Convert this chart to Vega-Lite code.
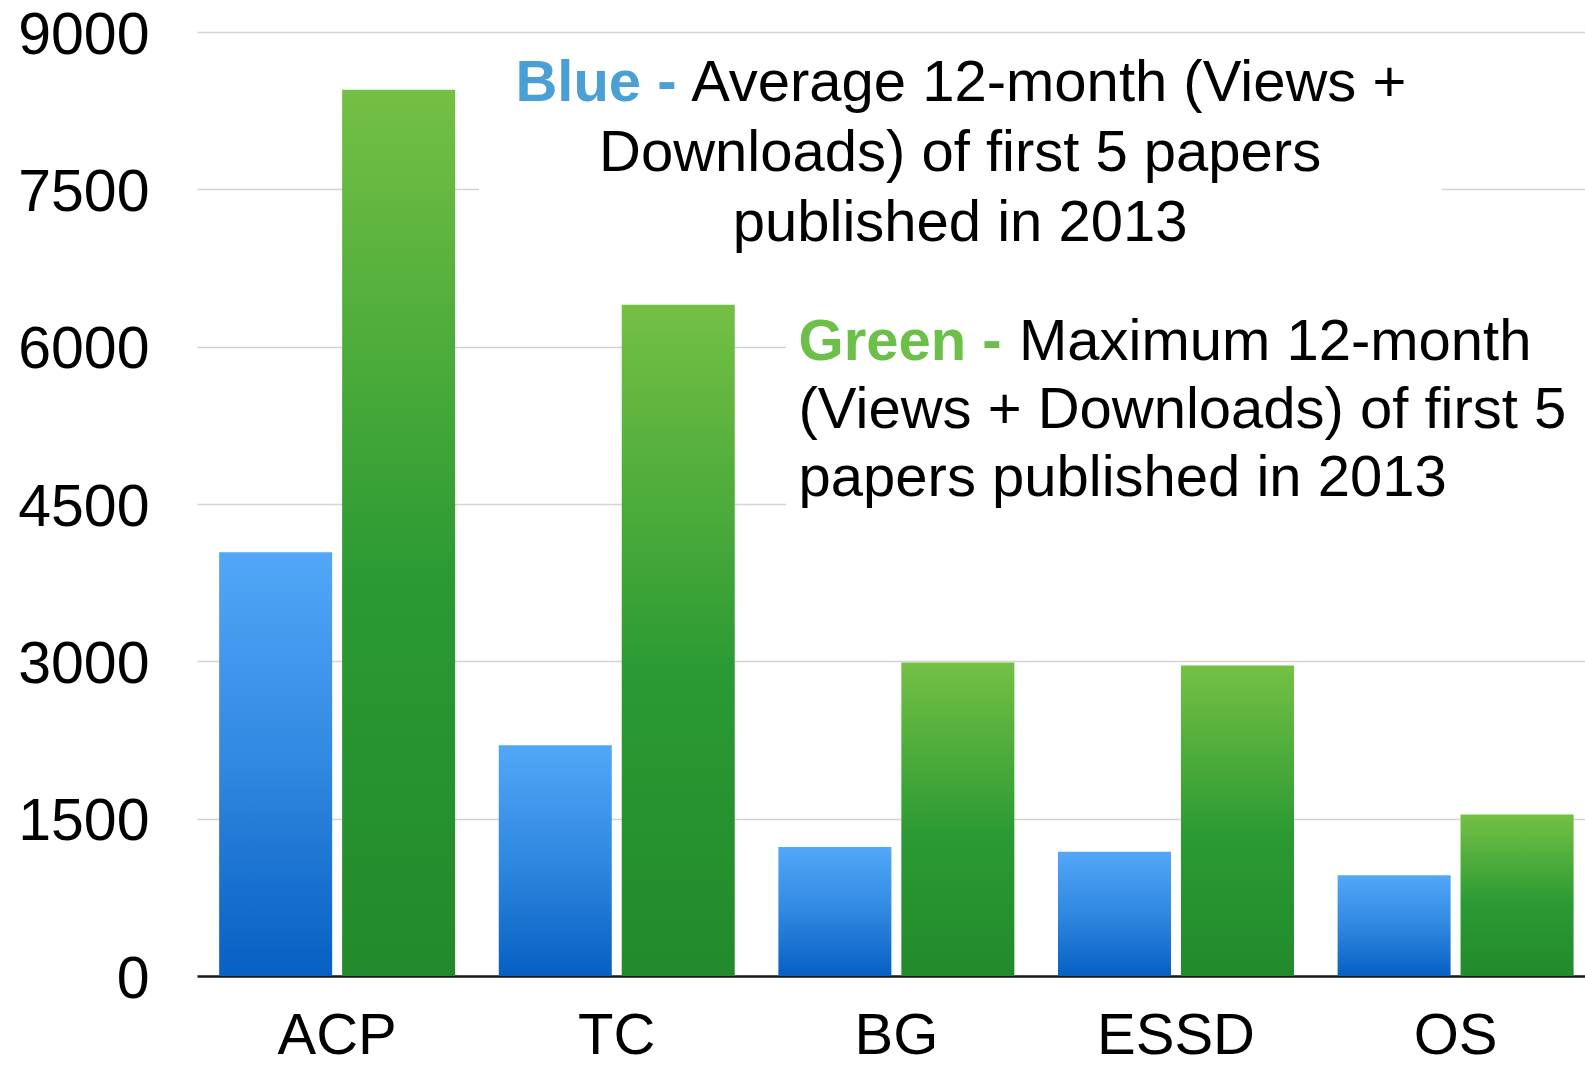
{
  "$schema": "https://vega.github.io/schema/vega-lite/v6.json",
  "width": 1388,
  "height": 944,
  "autosize": {"type": "none"},
  "padding": {"left": 197, "top": 32, "right": 0, "bottom": 92},
  "background": "white",
  "config": {
    "view": {"stroke": null},
    "font": "Liberation Sans",
    "axis": {"title": null, "labelFont": "Liberation Sans", "labelColor": "#000000"}
  },
  "resolve": {"scale": {"x": "independent"}, "axis": {"x": "independent"}},
  "layer": [
    {
      "data": {"values": [
        {"box": "blue", "x1": 1.016, "x2": 4.485, "y1": 6830, "y2": 8832},
        {"box": "green", "x1": 2.122, "x2": 5, "y1": 4256, "y2": 6450}
      ]},
      "mark": {"type": "rect", "fill": "white", "stroke": null},
      "encoding": {
        "x": {"field": "x1", "type": "quantitative", "scale": {"domain": [0, 5], "nice": false, "zero": false}, "axis": null},
        "x2": {"field": "x2"},
        "y": {"field": "y1", "type": "quantitative", "scale": {"domain": [0, 9000], "nice": false},
              "axis": {"values": [0, 1500, 3000, 4500, 6000, 7500, 9000], "format": "d", "grid": true, "gridColor": "#d4d4d4", "gridWidth": 1.5, "domain": false, "ticks": false, "labelFontSize": 59, "labelPadding": 48, "labelBaseline": "middle", "labelOffset": 3, "labelFlush": false, "title": null}},
        "y2": {"field": "y2"}
      }
    },
    {
      "data": {"name": "bars", "values": [
        {"journal": "ACP", "series": "Average", "value": 4040},
        {"journal": "ACP", "series": "Maximum", "value": 8450},
        {"journal": "TC", "series": "Average", "value": 2200},
        {"journal": "TC", "series": "Maximum", "value": 6400},
        {"journal": "BG", "series": "Average", "value": 1230},
        {"journal": "BG", "series": "Maximum", "value": 2990},
        {"journal": "ESSD", "series": "Average", "value": 1185},
        {"journal": "ESSD", "series": "Maximum", "value": 2960},
        {"journal": "OS", "series": "Average", "value": 960},
        {"journal": "OS", "series": "Maximum", "value": 1540}
      ]},
      "encoding": {
        "x": {"field": "journal", "type": "nominal", "sort": ["ACP", "TC", "BG", "ESSD", "OS"],
              "scale": {"paddingInner": 0.156, "paddingOuter": 0.06, "align": 0.66},
              "axis": {"labelAngle": 0, "labelFontSize": 58, "labelBaseline": "alphabetic", "labelPadding": 77, "ticks": false, "grid": false, "domain": true, "domainColor": "#1a1a1a", "domainWidth": 2.5, "title": null}},
        "xOffset": {"field": "series", "type": "nominal", "scale": {"domain": ["Average", "Maximum"], "paddingInner": 0.081, "paddingOuter": 0}},
        "y": {"field": "value", "type": "quantitative", "scale": {"domain": [0, 9000], "nice": false},
              "axis": {"values": [0, 1500, 3000, 4500, 6000, 7500, 9000], "format": "d", "grid": true, "gridColor": "#d4d4d4", "gridWidth": 1.5, "domain": false, "ticks": false, "labelFontSize": 59, "labelPadding": 48, "labelBaseline": "middle", "labelOffset": 3, "labelFlush": false, "title": null}}
      },
      "layer": [
        {
          "transform": [{"filter": "datum.series === 'Average'"}],
          "mark": {"type": "bar", "color": {"gradient": "linear", "x1": 0, "y1": 0, "x2": 0, "y2": 1, "stops": [
            {"offset": 0, "color": "#52a7f8"}, {"offset": 0.5, "color": "#3088e0"}, {"offset": 1, "color": "#0760c2"}]}}
        },
        {
          "transform": [{"filter": "datum.series === 'Maximum'"}],
          "mark": {"type": "bar", "color": {"gradient": "linear", "x1": 0, "y1": 0, "x2": 0, "y2": 1, "stops": [
            {"offset": 0, "color": "#74c044"}, {"offset": 0.55, "color": "#2b9a33"}, {"offset": 1, "color": "#228a2c"}]}}
        }
      ]
    },
    {
      "data": {"values": [
        {"label": "Blue -", "x": 1.147, "y": 8345}
      ]},
      "mark": {"type": "text", "align": "left", "baseline": "alphabetic", "fontSize": 58, "fontWeight": "bold", "color": "#4a9fd4"},
      "encoding": {
        "x": {"field": "x", "type": "quantitative", "scale": {"domain": [0, 5], "nice": false, "zero": false}, "axis": null},
        "y": {"field": "y", "type": "quantitative"},
        "text": {"field": "label"}
      }
    },
    {
      "data": {"values": [
        {"label": "Green -", "x": 2.167, "y": 5871}
      ]},
      "mark": {"type": "text", "align": "left", "baseline": "alphabetic", "fontSize": 58, "fontWeight": "bold", "color": "#6cc04a"},
      "encoding": {
        "x": {"field": "x", "type": "quantitative", "scale": {"domain": [0, 5], "nice": false, "zero": false}, "axis": null},
        "y": {"field": "y", "type": "quantitative"},
        "text": {"field": "label"}
      }
    },
    {
      "data": {"values": [
        {"label": "Average 12-month (Views +", "x": 1.78, "y": 8345},
        {"label": "Maximum 12-month", "x": 2.961, "y": 5871},
        {"label": "(Views + Downloads) of first 5", "x": 2.167, "y": 5220},
        {"label": "papers published in 2013", "x": 2.167, "y": 4572}
      ]},
      "mark": {"type": "text", "align": "left", "baseline": "alphabetic", "fontSize": 58, "color": "#000000"},
      "encoding": {
        "x": {"field": "x", "type": "quantitative", "scale": {"domain": [0, 5], "nice": false, "zero": false}, "axis": null},
        "y": {"field": "y", "type": "quantitative"},
        "text": {"field": "label"}
      }
    },
    {
      "data": {"values": [
        {"label": "Downloads) of first 5 papers", "x": 2.749, "y": 7674},
        {"label": "published in 2013", "x": 2.749, "y": 7005}
      ]},
      "mark": {"type": "text", "align": "center", "baseline": "alphabetic", "fontSize": 58, "color": "#000000"},
      "encoding": {
        "x": {"field": "x", "type": "quantitative", "scale": {"domain": [0, 5], "nice": false, "zero": false}, "axis": null},
        "y": {"field": "y", "type": "quantitative"},
        "text": {"field": "label"}
      }
    }
  ]
}
